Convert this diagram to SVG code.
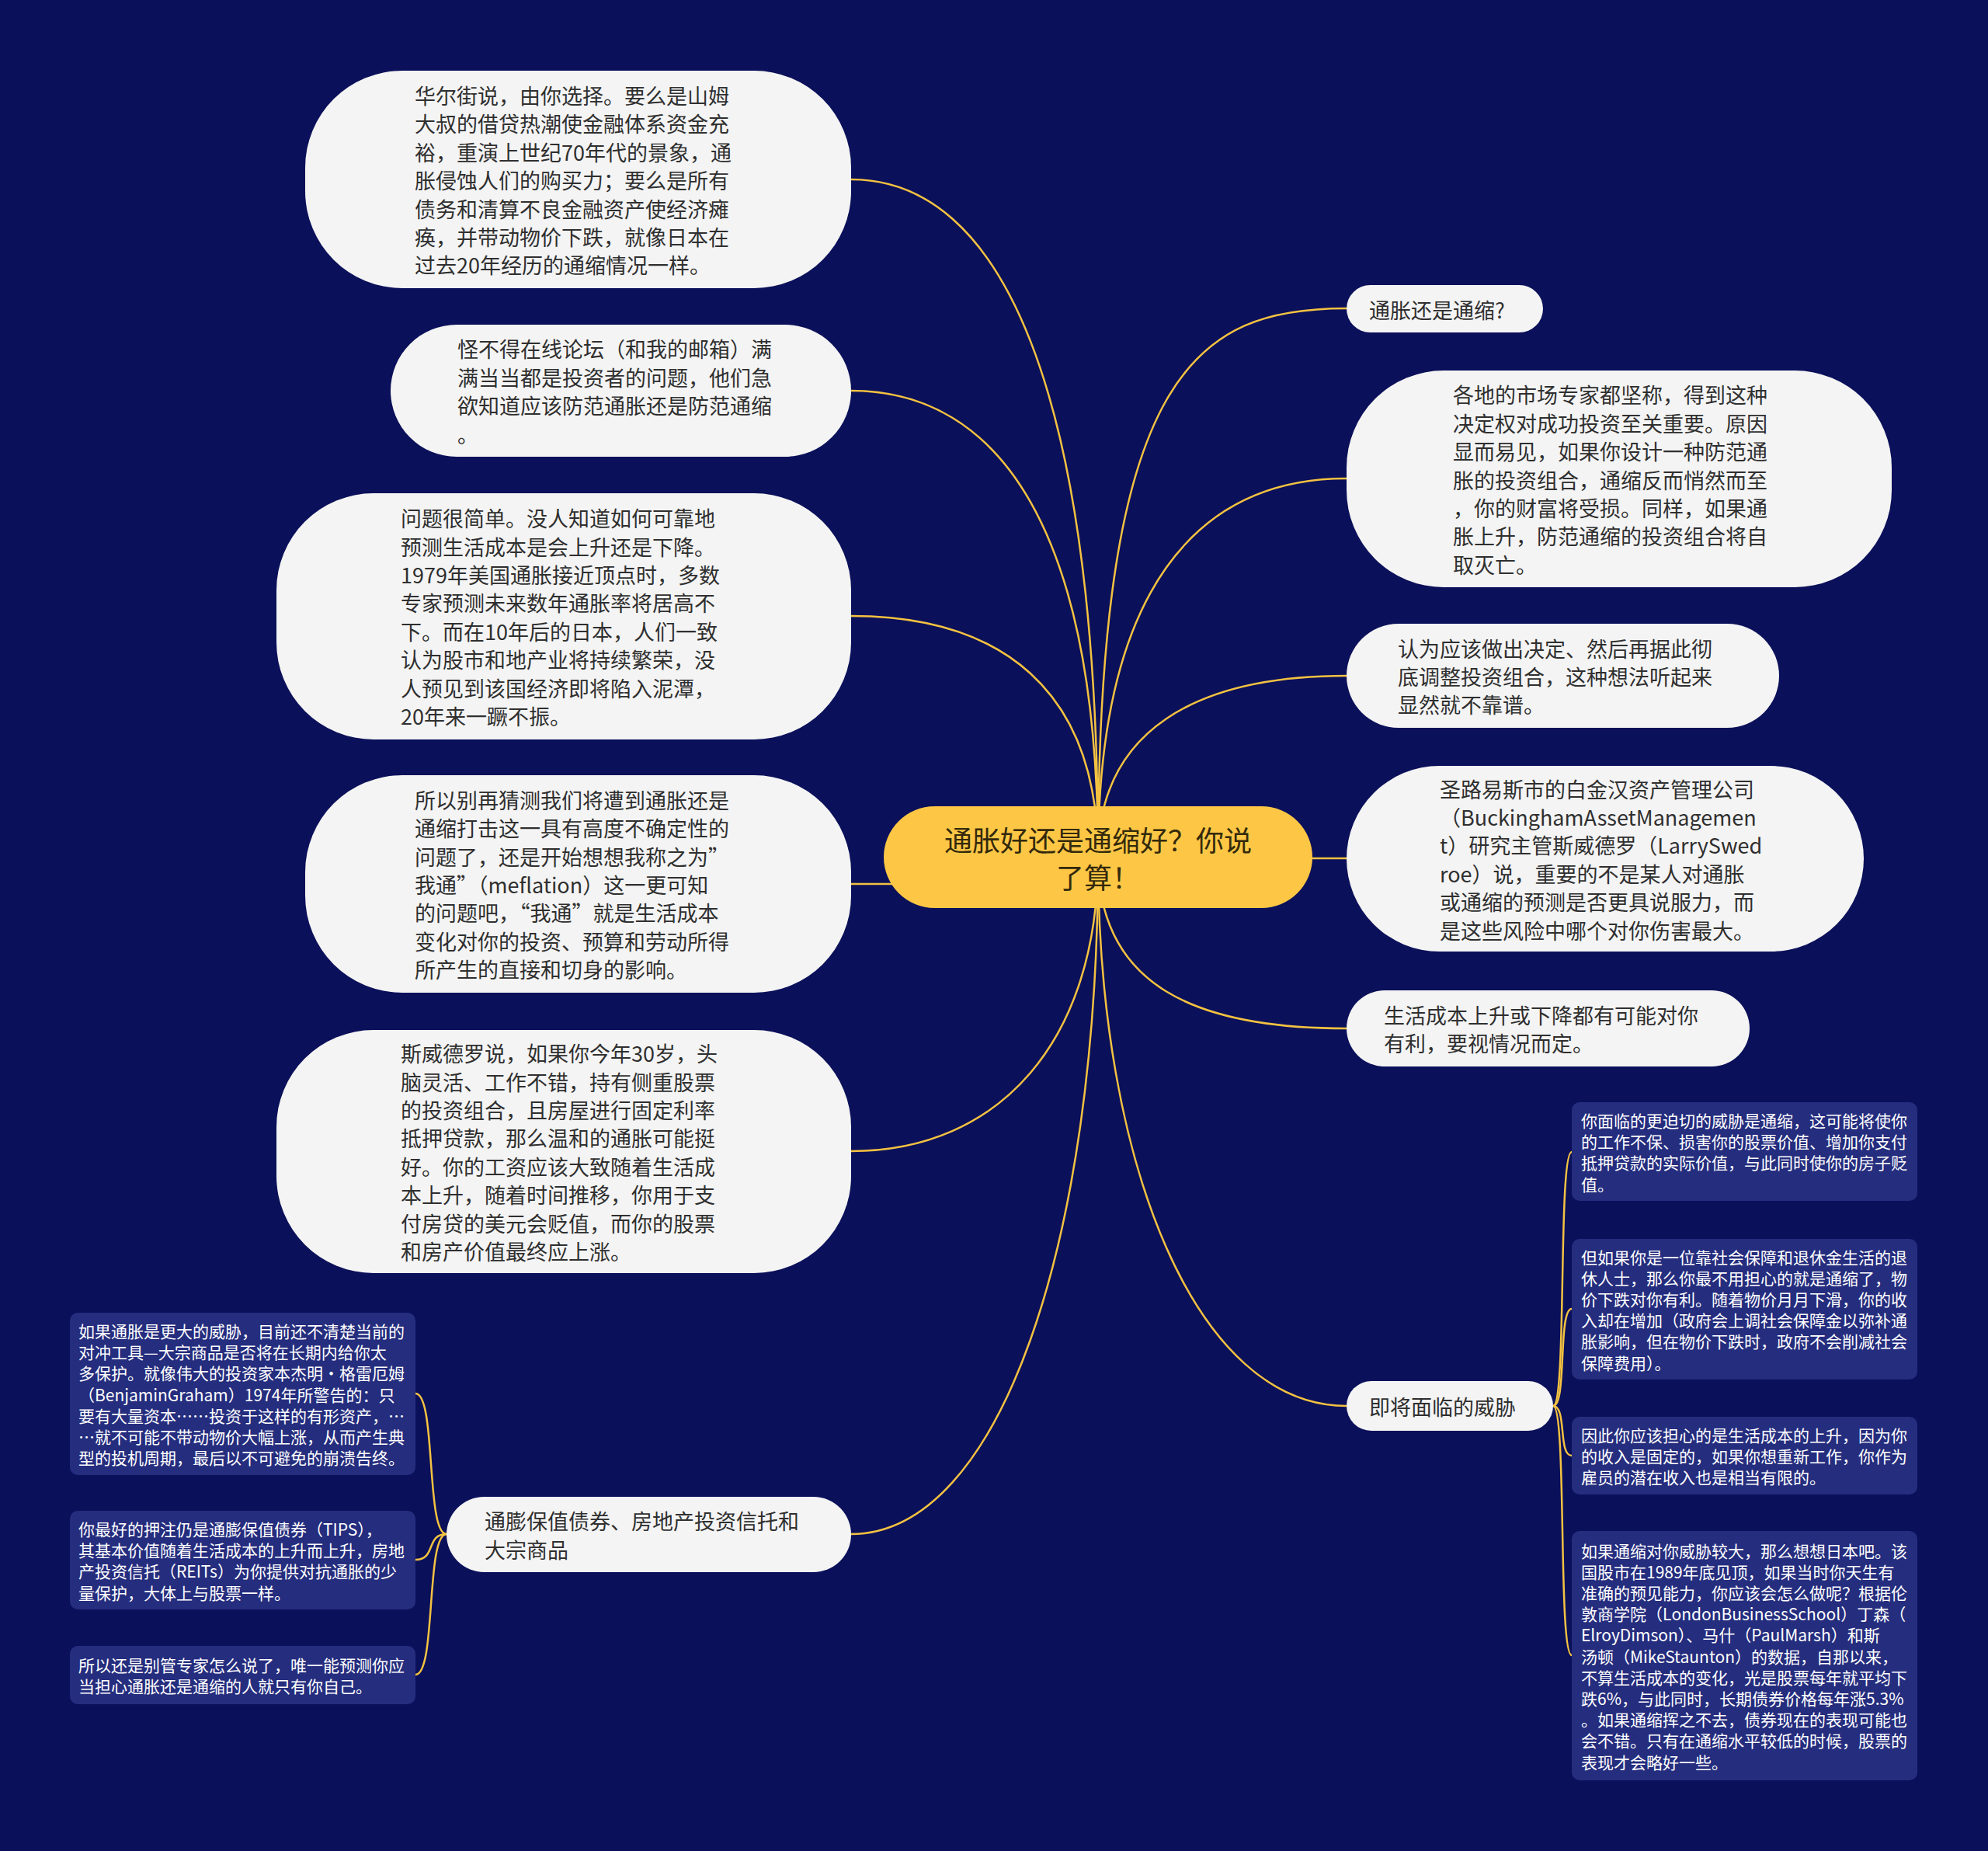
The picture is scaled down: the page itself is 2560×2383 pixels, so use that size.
<svg xmlns="http://www.w3.org/2000/svg" width="2560" height="2383" viewBox="0 0 2560 2383">
<style>
.bg{fill:#0b105a}
.big{fill:#f4f4f4}
.small{fill:#252d7e}
.center{fill:#fdc745}
.tb{font-family:"Noto Sans CJK SC","Noto Sans",sans-serif;font-size:27px;fill:#2f2f2f;dominant-baseline:central}
.ts{font-family:"Noto Sans CJK SC","Noto Sans",sans-serif;font-size:21px;fill:#ffffff;dominant-baseline:central}
.tc{font-family:"Noto Sans CJK SC","Noto Sans",sans-serif;font-size:36px;fill:#33290c;dominant-baseline:central;text-anchor:middle}
.ln{fill:none;stroke:#f3c241;stroke-width:2.5}
</style>
<rect class="bg" x="0" y="0" width="2560" height="2383"/>
<g id="connectors">
<path class="ln" d="M1096,231 C1287,231 1414,493 1414,1104"/>
<path class="ln" d="M1096,503 C1287,503 1414,683 1414,1104"/>
<path class="ln" d="M1096,793 C1287,793 1414,886 1414,1104"/>
<path class="ln" d="M1096,1138 L1414,1138"/>
<path class="ln" d="M1096,1482 C1287,1482 1414,1340 1414,1104"/>
<path class="ln" d="M1096,1975 C1287,1975 1414,1600 1414,1104"/>
<path class="ln" d="M1734,397 C1541,397 1414,478 1414,1104"/>
<path class="ln" d="M1734,616 C1541,616 1414,760 1414,1104"/>
<path class="ln" d="M1734,870 C1541,870 1414,940 1414,1104"/>
<path class="ln" d="M1734,1105 L1414,1105"/>
<path class="ln" d="M1734,1324 C1541,1324 1414,1270 1414,1104"/>
<path class="ln" d="M1734,1810 C1541,1810 1414,1500 1414,1104"/>
<path class="ln" d="M575,1975 C548,1975 562,1794 535,1794"/>
<path class="ln" d="M575,1975 C548,1975 562,2008 535,2008"/>
<path class="ln" d="M575,1975 C548,1975 562,2156 535,2156"/>
<path class="ln" d="M2000,1810 C2018,1810 2006,1483 2024,1483"/>
<path class="ln" d="M2000,1810 C2018,1810 2006,1685 2024,1685"/>
<path class="ln" d="M2000,1810 C2018,1810 2006,1874 2024,1874"/>
<path class="ln" d="M2000,1810 C2018,1810 2006,2131 2024,2131"/>
</g>
<g id="center">
<rect class="center" x="1138" y="1038" width="552" height="131" rx="65.5"/>
<text class="tc"><tspan x="1414" y="1080">通胀好还是通缩好？你说</tspan><tspan x="1414" y="1128">了算！</tspan></text>
</g>
<g id="L1">
<rect class="big" x="393" y="91" width="703" height="280" rx="125"/>
<text class="tb"><tspan x="534" y="122">华尔街说，由你选择。要么是山姆</tspan><tspan x="534" dy="36.4">大叔的借贷热潮使金融体系资金充</tspan><tspan x="534" dy="36.4">裕，重演上世纪70年代的景象，通</tspan><tspan x="534" dy="36.4">胀侵蚀人们的购买力；要么是所有</tspan><tspan x="534" dy="36.4">债务和清算不良金融资产使经济瘫</tspan><tspan x="534" dy="36.4">痪，并带动物价下跌，就像日本在</tspan><tspan x="534" dy="36.4">过去20年经历的通缩情况一样。</tspan></text>
</g>
<g id="L2">
<rect class="big" x="503" y="418" width="593" height="170" rx="85"/>
<text class="tb"><tspan x="589" y="448.4">怪不得在线论坛（和我的邮箱）满</tspan><tspan x="589" dy="36.4">满当当都是投资者的问题，他们急</tspan><tspan x="589" dy="36.4">欲知道应该防范通胀还是防范通缩</tspan><tspan x="589" dy="36.4">。</tspan></text>
</g>
<g id="L3">
<rect class="big" x="356" y="635" width="740" height="317" rx="125"/>
<text class="tb"><tspan x="516" y="666.1">问题很简单。没人知道如何可靠地</tspan><tspan x="516" dy="36.4">预测生活成本是会上升还是下降。</tspan><tspan x="516" dy="36.4">1979年美国通胀接近顶点时，多数</tspan><tspan x="516" dy="36.4">专家预测未来数年通胀率将居高不</tspan><tspan x="516" dy="36.4">下。而在10年后的日本，人们一致</tspan><tspan x="516" dy="36.4">认为股市和地产业将持续繁荣，没</tspan><tspan x="516" dy="36.4">人预见到该国经济即将陷入泥潭，</tspan><tspan x="516" dy="36.4">20年来一蹶不振。</tspan></text>
</g>
<g id="L4">
<rect class="big" x="393" y="998" width="703" height="280" rx="125"/>
<text class="tb"><tspan x="534" y="1028.8">所以别再猜测我们将遭到通胀还是</tspan><tspan x="534" dy="36.4">通缩打击这一具有高度不确定性的</tspan><tspan x="534" dy="36.4">问题了，还是开始想想我称之为”</tspan><tspan x="534" dy="36.4">我通”（meflation）这一更可知</tspan><tspan x="534" dy="36.4">的问题吧，“我通”就是生活成本</tspan><tspan x="534" dy="36.4">变化对你的投资、预算和劳动所得</tspan><tspan x="534" dy="36.4">所产生的直接和切身的影响。</tspan></text>
</g>
<g id="L5">
<rect class="big" x="356" y="1326" width="740" height="313" rx="125"/>
<text class="tb"><tspan x="516" y="1355.1">斯威德罗说，如果你今年30岁，头</tspan><tspan x="516" dy="36.4">脑灵活、工作不错，持有侧重股票</tspan><tspan x="516" dy="36.4">的投资组合，且房屋进行固定利率</tspan><tspan x="516" dy="36.4">抵押贷款，那么温和的通胀可能挺</tspan><tspan x="516" dy="36.4">好。你的工资应该大致随着生活成</tspan><tspan x="516" dy="36.4">本上升，随着时间推移，你用于支</tspan><tspan x="516" dy="36.4">付房贷的美元会贬值，而你的股票</tspan><tspan x="516" dy="36.4">和房产价值最终应上涨。</tspan></text>
</g>
<g id="L6">
<rect class="big" x="575" y="1927" width="521" height="97" rx="48.5"/>
<text class="tb"><tspan x="624" y="1957.3">通膨保值债券、房地产投资信托和</tspan><tspan x="624" dy="36.4">大宗商品</tspan></text>
</g>
<g id="S1">
<rect class="small" x="90" y="1690" width="445" height="209" rx="10"/>
<text class="ts"><tspan x="101" y="1713">如果通胀是更大的威胁，目前还不清楚当前的</tspan><tspan x="101" dy="27.2">对冲工具—大宗商品是否将在长期内给你太</tspan><tspan x="101" dy="27.2">多保护。就像伟大的投资家本杰明•格雷厄姆</tspan><tspan x="101" dy="27.2">（BenjaminGraham）1974年所警告的：只</tspan><tspan x="101" dy="27.2">要有大量资本……投资于这样的有形资产，…</tspan><tspan x="101" dy="27.2">…就不可能不带动物价大幅上涨，从而产生典</tspan><tspan x="101" dy="27.2">型的投机周期，最后以不可避免的崩溃告终。</tspan></text>
</g>
<g id="S2">
<rect class="small" x="90" y="1945" width="445" height="127" rx="10"/>
<text class="ts"><tspan x="101" y="1968">你最好的押注仍是通膨保值债券（TIPS），</tspan><tspan x="101" dy="27.2">其基本价值随着生活成本的上升而上升，房地</tspan><tspan x="101" dy="27.2">产投资信托（REITs）为你提供对抗通胀的少</tspan><tspan x="101" dy="27.2">量保护，大体上与股票一样。</tspan></text>
</g>
<g id="S3">
<rect class="small" x="90" y="2119" width="445" height="75" rx="10"/>
<text class="ts"><tspan x="101" y="2143">所以还是别管专家怎么说了，唯一能预测你应</tspan><tspan x="101" dy="27.2">当担心通胀还是通缩的人就只有你自己。</tspan></text>
</g>
<g id="R1">
<rect class="big" x="1734" y="367" width="253" height="61" rx="30.5"/>
<text class="tb"><tspan x="1763" y="397.5">通胀还是通缩?</tspan></text>
</g>
<g id="R2">
<rect class="big" x="1734" y="477" width="702" height="279" rx="125"/>
<text class="tb"><tspan x="1871" y="507.3">各地的市场专家都坚称，得到这种</tspan><tspan x="1871" dy="36.4">决定权对成功投资至关重要。原因</tspan><tspan x="1871" dy="36.4">显而易见，如果你设计一种防范通</tspan><tspan x="1871" dy="36.4">胀的投资组合，通缩反而悄然而至</tspan><tspan x="1871" dy="36.4">，你的财富将受损。同样，如果通</tspan><tspan x="1871" dy="36.4">胀上升，防范通缩的投资组合将自</tspan><tspan x="1871" dy="36.4">取灭亡。</tspan></text>
</g>
<g id="R3">
<rect class="big" x="1734" y="803" width="557" height="134" rx="67"/>
<text class="tb"><tspan x="1800" y="833.6">认为应该做出决定、然后再据此彻</tspan><tspan x="1800" dy="36.4">底调整投资组合，这种想法听起来</tspan><tspan x="1800" dy="36.4">显然就不靠谱。</tspan></text>
</g>
<g id="R4">
<rect class="big" x="1734" y="986" width="666" height="239" rx="119.5"/>
<text class="tb"><tspan x="1854" y="1014.5">圣路易斯市的白金汉资产管理公司</tspan><tspan x="1854" dy="36.4">（BuckinghamAssetManagemen</tspan><tspan x="1854" dy="36.4">t）研究主管斯威德罗（LarrySwed</tspan><tspan x="1854" dy="36.4">roe）说，重要的不是某人对通胀</tspan><tspan x="1854" dy="36.4">或通缩的预测是否更具说服力，而</tspan><tspan x="1854" dy="36.4">是这些风险中哪个对你伤害最大。</tspan></text>
</g>
<g id="R5">
<rect class="big" x="1734" y="1275" width="519" height="98" rx="49"/>
<text class="tb"><tspan x="1782" y="1305.8">生活成本上升或下降都有可能对你</tspan><tspan x="1782" dy="36.4">有利，要视情况而定。</tspan></text>
</g>
<g id="R6">
<rect class="big" x="1734" y="1778" width="266" height="64" rx="32"/>
<text class="tb"><tspan x="1763" y="1810">即将面临的威胁</tspan></text>
</g>
<g id="T1">
<rect class="small" x="2024" y="1419" width="445" height="127" rx="10"/>
<text class="ts"><tspan x="2036" y="1442">你面临的更迫切的威胁是通缩，这可能将使你</tspan><tspan x="2036" dy="27.2">的工作不保、损害你的股票价值、增加你支付</tspan><tspan x="2036" dy="27.2">抵押贷款的实际价值，与此同时使你的房子贬</tspan><tspan x="2036" dy="27.2">值。</tspan></text>
</g>
<g id="T2">
<rect class="small" x="2024" y="1595" width="445" height="181" rx="10"/>
<text class="ts"><tspan x="2036" y="1617.5">但如果你是一位靠社会保障和退休金生活的退</tspan><tspan x="2036" dy="27.2">休人士，那么你最不用担心的就是通缩了，物</tspan><tspan x="2036" dy="27.2">价下跌对你有利。随着物价月月下滑，你的收</tspan><tspan x="2036" dy="27.2">入却在增加（政府会上调社会保障金以弥补通</tspan><tspan x="2036" dy="27.2">胀影响，但在物价下跌时，政府不会削减社会</tspan><tspan x="2036" dy="27.2">保障费用）。</tspan></text>
</g>
<g id="T3">
<rect class="small" x="2024" y="1824" width="445" height="100" rx="10"/>
<text class="ts"><tspan x="2036" y="1847">因此你应该担心的是生活成本的上升，因为你</tspan><tspan x="2036" dy="27.2">的收入是固定的，如果你想重新工作，你作为</tspan><tspan x="2036" dy="27.2">雇员的潜在收入也是相当有限的。</tspan></text>
</g>
<g id="T4">
<rect class="small" x="2024" y="1971" width="445" height="321" rx="10"/>
<text class="ts"><tspan x="2036" y="1995.5">如果通缩对你威胁较大，那么想想日本吧。该</tspan><tspan x="2036" dy="27.2">国股市在1989年底见顶，如果当时你天生有</tspan><tspan x="2036" dy="27.2">准确的预见能力，你应该会怎么做呢？根据伦</tspan><tspan x="2036" dy="27.2">敦商学院（LondonBusinessSchool）丁森（</tspan><tspan x="2036" dy="27.2">ElroyDimson）、马什（PaulMarsh）和斯</tspan><tspan x="2036" dy="27.2">汤顿（MikeStaunton）的数据，自那以来，</tspan><tspan x="2036" dy="27.2">不算生活成本的变化，光是股票每年就平均下</tspan><tspan x="2036" dy="27.2">跌6%，与此同时，长期债券价格每年涨5.3%</tspan><tspan x="2036" dy="27.2">。如果通缩挥之不去，债券现在的表现可能也</tspan><tspan x="2036" dy="27.2">会不错。只有在通缩水平较低的时候，股票的</tspan><tspan x="2036" dy="27.2">表现才会略好一些。</tspan></text>
</g>
</svg>
